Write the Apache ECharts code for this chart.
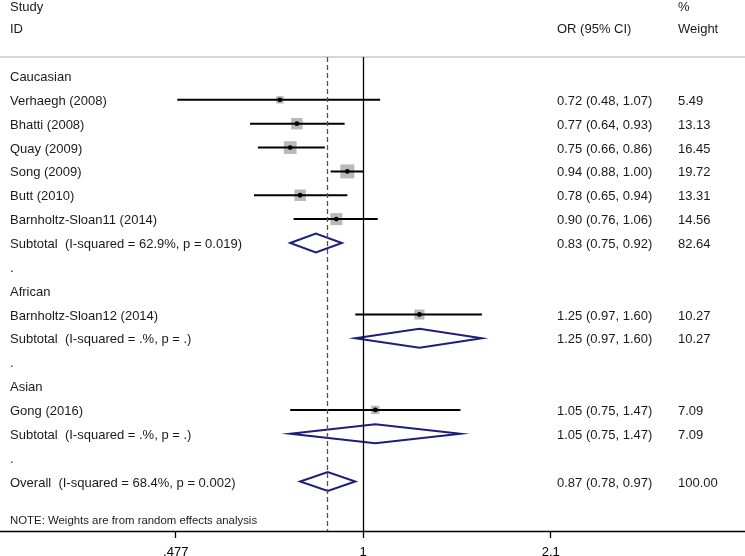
<!DOCTYPE html>
<html>
<head>
<meta charset="utf-8">
<script src="https://cdn.jsdelivr.net/npm/echarts@6/dist/echarts.min.js"></script>
<style>
html,body{margin:0;padding:0;background:#fff;}
#chart{width:745px;height:556px;}
</style>
</head>
<body>
<div id="chart"></div>
<script>
// ---- data ----
var rowLabels = [
  "Caucasian",
  "Verhaegh (2008)",
  "Bhatti (2008)",
  "Quay (2009)",
  "Song (2009)",
  "Butt (2010)",
  "Barnholtz-Sloan11 (2014)",
  "Subtotal  (I-squared = 62.9%, p = 0.019)",
  ".",
  "African",
  "Barnholtz-Sloan12 (2014)",
  "Subtotal  (I-squared = .%, p = .)",
  ".",
  "Asian",
  "Gong (2016)",
  "Subtotal  (I-squared = .%, p = .)",
  ".",
  "Overall  (I-squared = 68.4%, p = 0.002)"
];
// h = heading, s = study, d = diamond (pooled), b = blank
var rowTypes = ["h","s","s","s","s","s","s","d","b","h","s","d","b","h","s","d","b","d"];
var orValues = [null,0.72,0.77,0.75,0.94,0.78,0.90,0.83,null,null,1.25,1.25,null,null,1.05,1.05,null,0.87];
var ciLower  = [null,0.48,0.64,0.66,0.88,0.65,0.76,0.75,null,null,0.97,0.97,null,null,0.75,0.75,null,0.78];
var ciUpper  = [null,1.07,0.93,0.86,1.00,0.94,1.06,0.92,null,null,1.60,1.60,null,null,1.47,1.47,null,0.97];
var weights  = [null,5.49,13.13,16.45,19.72,13.31,14.56,82.64,null,null,10.27,10.27,null,null,7.09,7.09,null,100.00];
var tickValues = [0.477, 1, 2.1];
var tickLabels = [".477", "1", "2.1"];
var overallOR = 0.87;
var noteText = "NOTE: Weights are from random effects analysis";

// ---- chart ----
var FONT = "'Liberation Sans', Arial, sans-serif";
var FS = 13;
var TXT = "#1a1a1a";
var DY = 1.5;
var chart = echarts.init(document.getElementById('chart'), null, {renderer: 'canvas'});

var rows = rowLabels.map(function (l, i) { return [0, i]; });
var studyRows = [], diamondRows = [];
rowTypes.forEach(function (t, i) {
  if (t === 's') studyRows.push(i);
  if (t === 'd') diamondRows.push(i);
});

function lx(v) { return Math.log(v); }
function hdr(text, x, y) {
  return {type: 'text', x: x, y: y,
          style: {text: text, font: FS + 'px ' + FONT, fill: TXT, verticalAlign: 'middle', align: 'left'}};
}

var option = {
  animation: false,
  backgroundColor: '#fff',
  grid: {left: 0, right: 0, top: 57, bottom: 25, containLabel: false, outerBoundsMode: 'none'},
  xAxis: [{
    type: 'value',
    min: -1.4348,
    max: 1.5099,
    position: 'bottom',
    splitLine: {show: false},
    axisLine: {show: true, onZero: false, lineStyle: {color: '#000', width: 1.3}},
    axisTick: {show: true, length: 7, lineStyle: {color: '#000', width: 1.3},
               customValues: tickValues.map(lx)},
    axisLabel: {
      customValues: tickValues.map(lx),
      margin: 15,
      fontFamily: FONT, fontSize: 13, color: '#000',
      formatter: function (v) {
        var best = 0, bd = 1e9;
        tickValues.forEach(function (t, i) {
          var d = Math.abs(lx(t) - v);
          if (d < bd) { bd = d; best = i; }
        });
        return tickLabels[best];
      }
    }
  }, {
    type: 'value',
    min: -1.4348,
    max: 1.5099,
    position: 'top',
    splitLine: {show: false},
    axisLine: {show: true, onZero: false, lineStyle: {color: '#c8c8c8', width: 1.5}},
    axisTick: {show: false},
    axisLabel: {show: false}
  }],
  yAxis: {
    type: 'value',
    inverse: true,
    min: -0.797,
    max: 19.077,
    show: false
  },
  graphic: [
    hdr('Study', 10, 6 + DY),
    hdr('ID', 10, 28 + DY),
    hdr('OR (95% CI)', 557, 28 + DY),
    hdr('%', 678, 6 + DY),
    hdr('Weight', 678, 28 + DY)
  ],
  series: [
    // studies: boxes, CI lines, points; plus reference lines
    {
      type: 'custom',
      xAxisIndex: 0,
      data: studyRows.map(function (r) { return [lx(orValues[r]), r]; }),
      renderItem: function (params, api) {
        var r = studyRows[params.dataIndex];
        var c = api.coord([lx(orValues[r]), r]);
        var a = api.coord([lx(ciLower[r]), r]);
        var b = api.coord([lx(ciUpper[r]), r]);
        var side = 3.15 * Math.sqrt(weights[r]);
        return {
          type: 'group',
          children: [
            {type: 'rect', shape: {x: c[0] - side / 2, y: c[1] - side / 2, width: side, height: side},
             style: {fill: '#b9b9b9'}},
            {type: 'line', shape: {x1: a[0], y1: a[1], x2: b[0], y2: b[1]},
             style: {stroke: '#000', lineWidth: 2}},
            {type: 'circle', shape: {cx: c[0], cy: c[1], r: 2.4}, style: {fill: '#000'}}
          ]
        };
      },
      markLine: {
        silent: true,
        symbol: ['none', 'none'],
        label: {show: false},
        data: [
          {xAxis: lx(1), lineStyle: {color: '#000', width: 1.3, type: 'solid'}},
          {xAxis: lx(overallOR), lineStyle: {color: '#a3303f', width: 1.3, type: [5, 3]}}
        ]
      },
      z: 3
    },
    // pooled diamonds
    {
      type: 'custom',
      xAxisIndex: 0,
      data: diamondRows.map(function (r) { return [lx(orValues[r]), r]; }),
      renderItem: function (params, api) {
        var r = diamondRows[params.dataIndex];
        var c = api.coord([lx(orValues[r]), r]);
        var a = api.coord([lx(ciLower[r]), r]);
        var b = api.coord([lx(ciUpper[r]), r]);
        var h = 9.5;
        return {
          type: 'polygon',
          shape: {points: [[a[0], c[1]], [c[0], c[1] - h], [b[0], c[1]], [c[0], c[1] + h]]},
          style: {fill: 'none', stroke: '#1c1f78', lineWidth: 2}
        };
      },
      z: 4
    },
    // text columns
    {
      type: 'custom',
      xAxisIndex: 0,
      data: rows,
      renderItem: function (params, api) {
        var r = params.dataIndex;
        var y = api.coord([0, r])[1] + DY;
        var kids = [{
          type: 'text', x: 10, y: y,
          style: {text: rowLabels[r], font: FS + 'px ' + FONT, fill: TXT, verticalAlign: 'middle', align: 'left'}
        }];
        if (orValues[r] != null) {
          kids.push({
            type: 'text', x: 557, y: y,
            style: {text: orValues[r].toFixed(2) + ' (' + ciLower[r].toFixed(2) + ', ' + ciUpper[r].toFixed(2) + ')',
                    font: FS + 'px ' + FONT, fill: TXT, verticalAlign: 'middle', align: 'left'}
          });
          kids.push({
            type: 'text', x: 678, y: y,
            style: {text: weights[r].toFixed(2), font: FS + 'px ' + FONT, fill: TXT, verticalAlign: 'middle', align: 'left'}
          });
        }
        if (r === rows.length - 1) {
          var yn = api.coord([0, 18.6])[1] + DY;
          kids.push({
            type: 'text', x: 10, y: yn,
            style: {text: noteText, font: '11.4px ' + FONT, fill: TXT, verticalAlign: 'middle', align: 'left'}
          });
        }
        return {type: 'group', children: kids};
      },
      z: 5
    }
  ]
};
chart.setOption(option);
</script>
</body>
</html>
